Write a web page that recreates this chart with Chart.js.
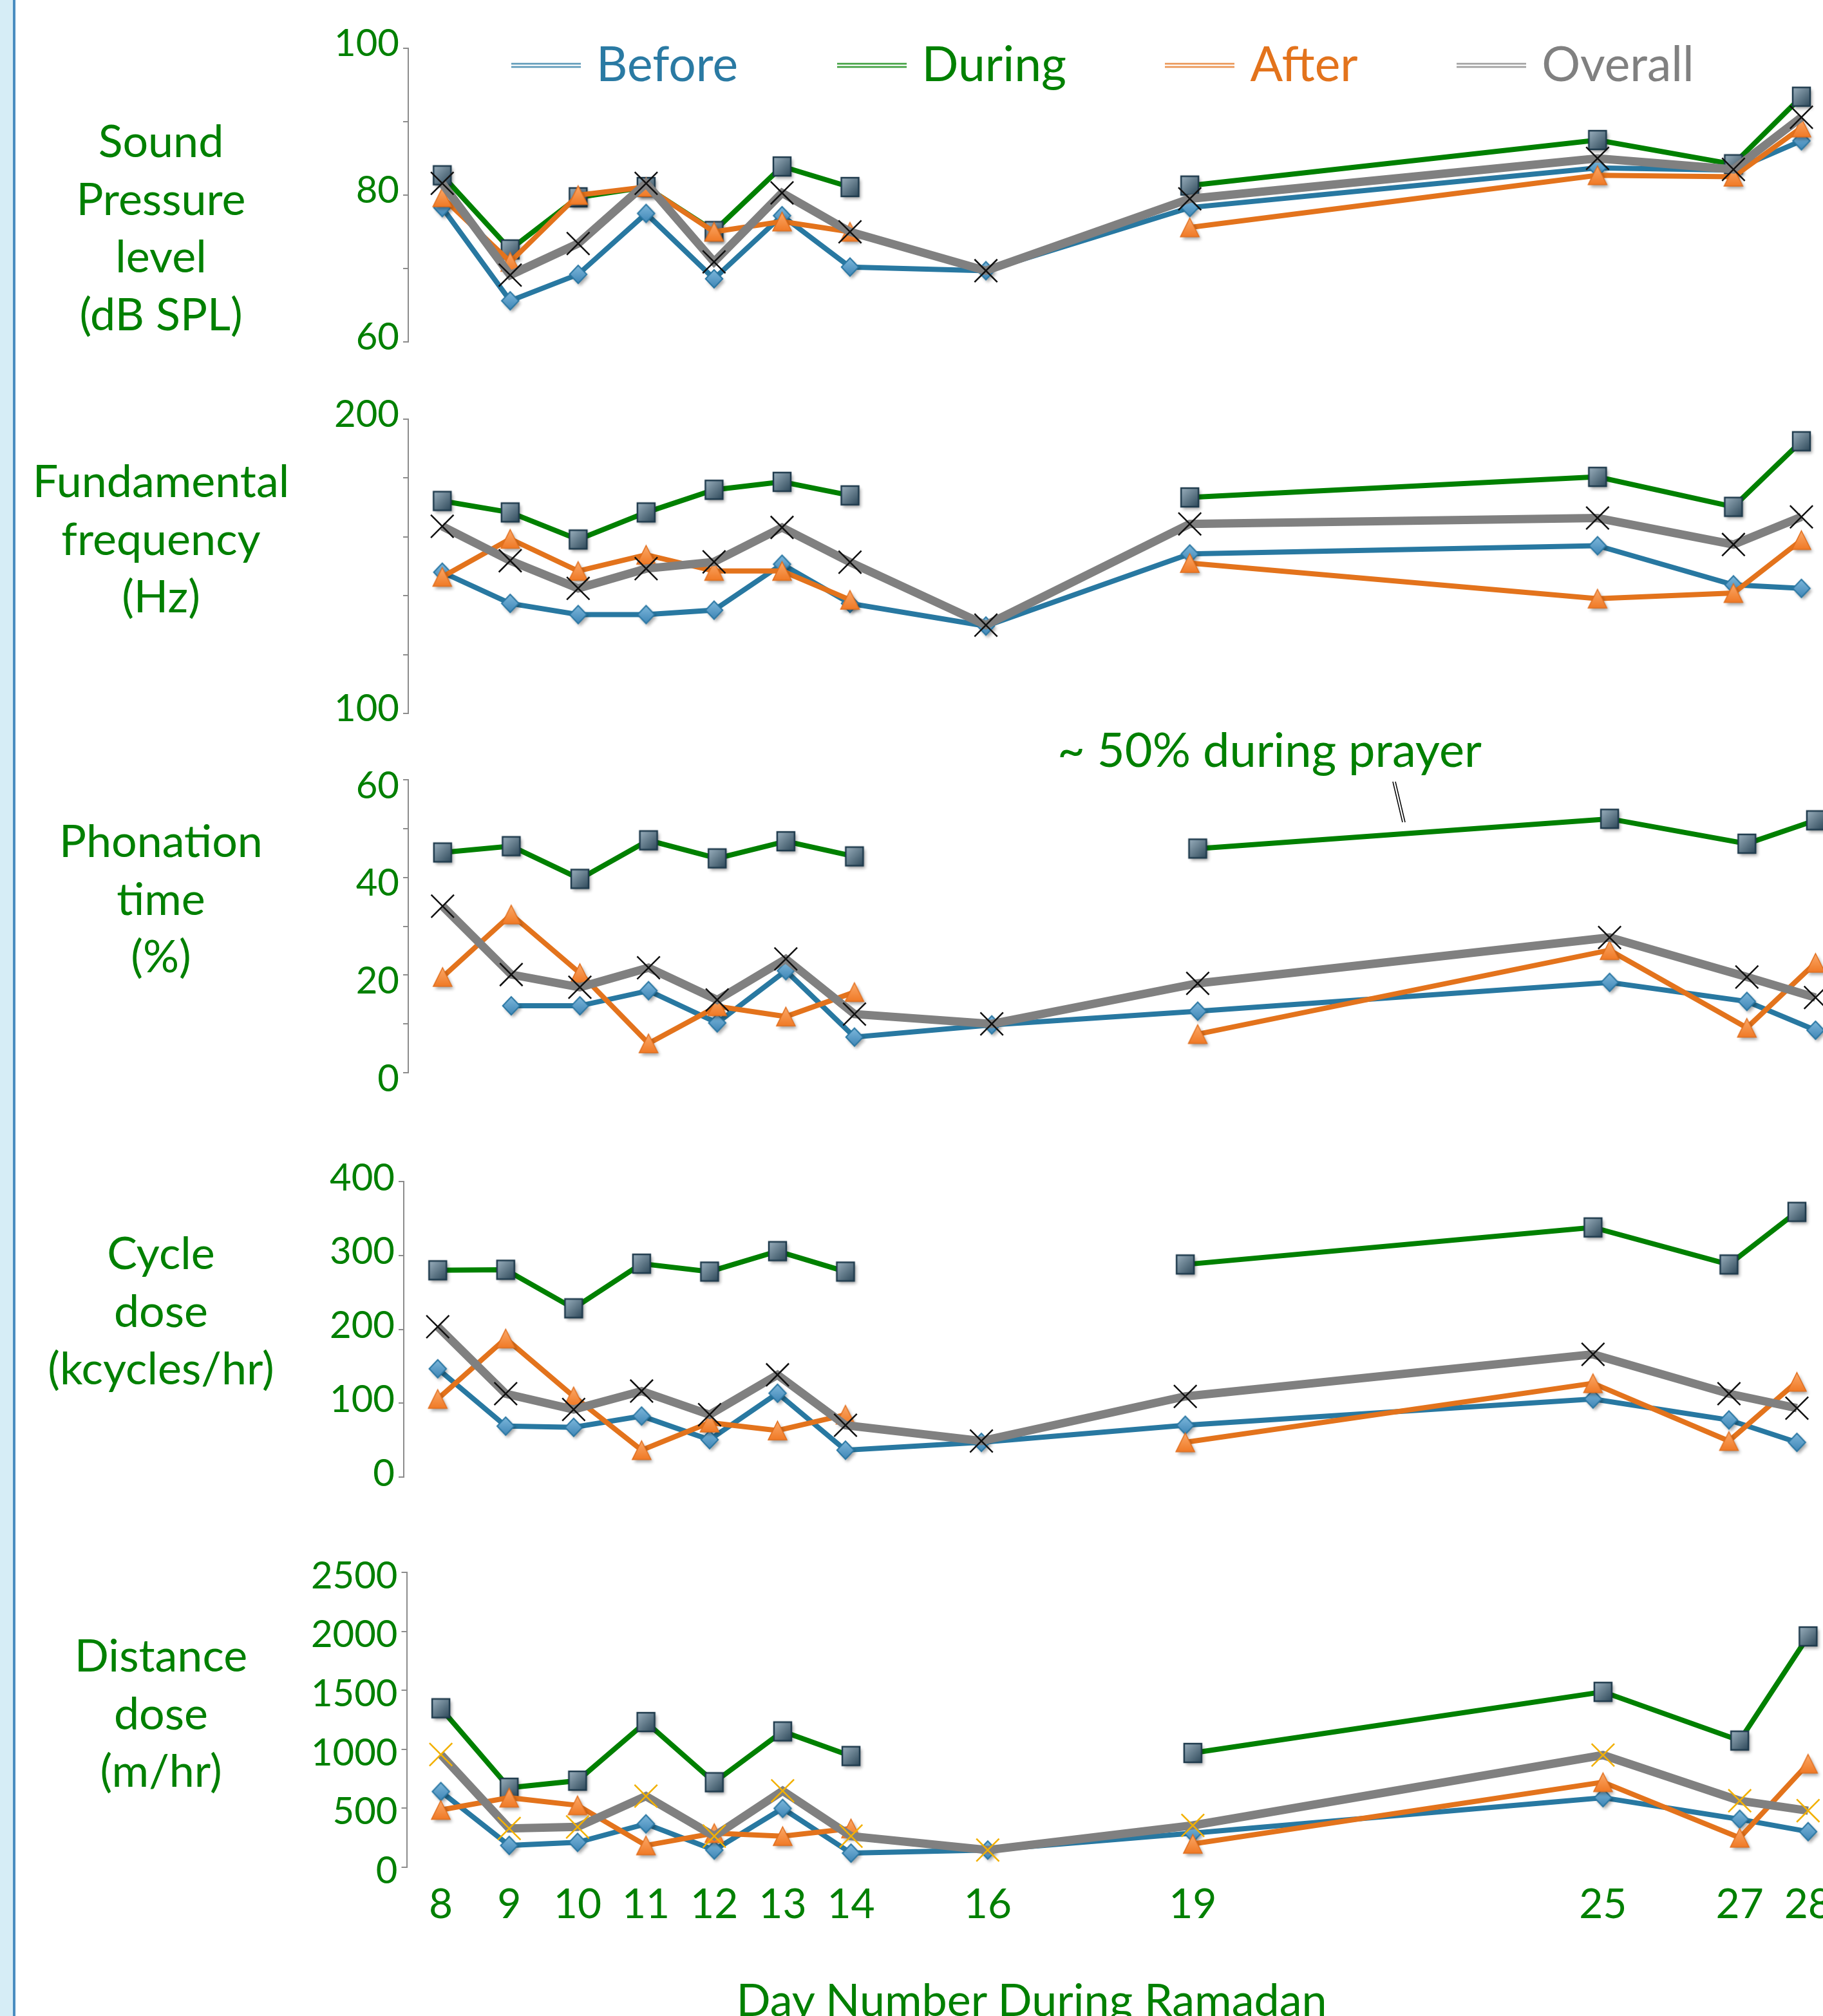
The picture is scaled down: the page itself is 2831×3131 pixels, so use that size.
<!DOCTYPE html>
<html>
<head>
<meta charset="utf-8">
<script src="https://cdn.jsdelivr.net/npm/chart.js@4.4.1/dist/chart.umd.min.js"></script>
<style>
    html, body { margin: 0; padding: 0; width: 2831px; height: 3131px; overflow: hidden; background: #fff; }
    body { position: relative; font-family: Lato, "Open Sans", sans-serif; }
    #strip { position: absolute; left: 0; top: 0; width: 20px; height: 3131px; background: #d6edf6; border-right: 4px solid #4a8dc0; }
    canvas { position: absolute; left: 0; }
    .ylab { position: absolute; left: 250px; transform: translateX(-50%); text-align: center; color: #008000;
            font-size: 70px; line-height: 89.5px; white-space: nowrap; }
    #note { position: absolute; left: 1642px; top: 1126px; color: #008000; font-size: 74px; line-height: 74px; white-space: nowrap; }
    #xtitle { position: absolute; left: 1602px; top: 3069px; transform: translateX(-50%); color: #008000;
              font-size: 70px; line-height: 70px; white-space: nowrap; }
    #leader { position: absolute; left: 0; top: 0; }
</style>
</head>
<body>
<div id="strip"></div>

<div class="ylab" style="top:173px">Sound<br>Pressure<br>level<br>(dB SPL)</div>
<div class="ylab" style="top:701px">Fundamental<br>frequency<br>(Hz)</div>
<div class="ylab" style="top:1260px">Phonation<br>time<br>(%)</div>
<div class="ylab" style="top:1900px">Cycle<br>dose<br>(kcycles/hr)</div>
<div class="ylab" style="top:2525px">Distance<br>dose<br>(m/hr)</div>

<canvas id="spl"></canvas>
<canvas id="f0"></canvas>
<canvas id="phon"></canvas>
<canvas id="cycle"></canvas>
<canvas id="dist"></canvas>
<canvas id="legend"></canvas>

<div id="note">~ 50% during prayer</div>
<div id="xtitle">Day Number During Ramadan</div>
<svg id="leader" width="2831" height="1400">
    <line x1="2163" y1="1214" x2="2178" y2="1277" stroke="#000" stroke-width="1.5"/>
    <line x1="2167" y1="1214" x2="2182" y2="1277" stroke="#000" stroke-width="1.5"/>
</svg>

<script>
const days = [8, 9, 10, 11, 12, 13, 14, 16, 19, 25, 27, 28];
const seriesNames = ['Before', 'During', 'After', 'Overall'];

// Sound pressure level (dB SPL)
const splBefore  = [78.3, 65.6, 69.2, 77.5, 68.6, 77.2, 70.2, 69.7, 78.3, 83.7, 83.4, 87.4];
const splDuring  = [82.7, 72.6, 79.7, 81.1, 75.1, 83.9, 81.1, null, 81.3, 87.5, 84.2, 93.4];
const splAfter   = [79.7, 70.9, 80.0, 81.1, 75.0, 76.4, 75.0, null, 75.6, 82.7, 82.5, 89.2];
const splOverall = [81.6, 69.1, 73.4, 81.6, 70.9, 80.3, 75.0, 69.7, 79.5, 85.0, 83.5, 90.6];
const splLabels  = [60, 80, 100];

// Fundamental frequency (Hz)
const f0Before  = [148.0, 137.4, 133.6, 133.6, 135.1, 150.7, 137.4, 129.7, 154.2, 157.0, 143.7, 142.5];
const f0During  = [172.2, 168.3, 159.1, 168.3, 176.0, 178.7, 174.1, null, 173.4, 180.4, 170.2, 192.5];
const f0After   = [146.4, 159.3, 148.4, 153.9, 148.4, 148.4, 138.6, null, 151.1, 139.0, 140.9, 158.9];
const f0Overall = [163.6, 151.9, 142.5, 149.2, 151.5, 163.2, 151.4, 130.0, 164.4, 166.4, 157.4, 166.8];
const f0Labels  = [100, 150, 200];

// Phonation time (%)
const phonBefore  = [null, 13.7, 13.7, 16.8, 10.2, 20.9, 7.3, 9.8, 12.6, 18.5, 14.6, 8.7];
const phonDuring  = [45.1, 46.4, 39.7, 47.6, 43.9, 47.4, 44.3, null, 45.9, 52.0, 46.9, 51.7];
const phonAfter   = [19.6, 32.4, 20.4, 6.0, 13.6, 11.5, 16.5, null, 7.9, 25.1, 9.2, 22.5];
const phonOverall = [34.1, 20.1, 17.5, 21.5, 14.9, 23.3, 12.0, 10.0, 18.3, 27.7, 19.6, 15.4];
const phonLabels  = [0, 20, 40, 60];

// Cycle dose (kcycles/hr)
const cycleBefore  = [146.6, 69.0, 67.3, 82.6, 50.6, 113.5, 36.4, 47.0, 70.1, 105.7, 77.3, 47.0];
const cycleDuring  = [279.9, 280.6, 228.4, 288.8, 278.1, 305.8, 278.1, null, 287.7, 337.9, 287.7, 358.9];
const cycleAfter   = [105.7, 187.5, 109.2, 36.4, 73.7, 63.0, 84.4, null, 47.0, 127.0, 48.8, 128.9];
const cycleOverall = [203.5, 112.8, 91.5, 116.4, 84.4, 138.4, 70.1, 48.8, 109.2, 166.1, 112.8, 93.3];
const cycleLabels  = [0, 100, 200, 300, 400];

// Distance dose (m/hr)
const distBefore  = [642, 185, 211, 368, 146, 499, 120, 146, 289, 590, 407, 302];
const distDuring  = [1348, 674, 734, 1231, 721, 1152, 943, null, 969, 1487, 1074, 1957];
const distAfter   = [486, 590, 525, 185, 289, 264, 329, null, 198, 721, 250, 878];
const distOverall = [956, 329, 342, 603, 264, 648, 264, 146, 355, 951, 564, 480];
const distLabels  = [0, 500, 1000, 1500, 2000, 2500];

const GREEN_TEXT = '#008000';
const X_MIN = 7.5, X_MAX = 29;

// small canvases used as point styles (gradient fill + drop shadow)
function markerCanvas(size, drawShape, fill, stroke, strokeWidth) {
    const m = 9;
    const c = document.createElement('canvas');
    c.width = c.height = size + 2 * m;
    const ctx = c.getContext('2d');
    ctx.translate(c.width / 2, c.height / 2);
    const h = size / 2;
    ctx.shadowColor = 'rgba(0,0,0,0.35)';
    ctx.shadowBlur = 5;
    ctx.shadowOffsetX = 3;
    ctx.shadowOffsetY = 4;
    ctx.beginPath();
    drawShape(ctx, h);
    ctx.fillStyle = fill(ctx, h);
    ctx.fill();
    ctx.shadowColor = 'transparent';
    ctx.lineWidth = strokeWidth;
    ctx.strokeStyle = stroke;
    ctx.lineJoin = 'miter';
    ctx.stroke();
    return c;
}

const diamondImg = markerCanvas(28, (ctx, h) => {
    ctx.moveTo(0, -h); ctx.lineTo(h * 0.95, 0); ctx.lineTo(0, h); ctx.lineTo(-h * 0.95, 0); ctx.closePath();
}, (ctx, h) => {
    const g = ctx.createLinearGradient(0, -h, 0, h);
    g.addColorStop(0, '#7db7db'); g.addColorStop(1, '#3f86b6');
    return g;
}, '#2a77a3', 2);

const squareImg = markerCanvas(29, (ctx, h) => {
    ctx.rect(-h + 1, -h, 2 * h - 2, 2 * h);
}, (ctx, h) => {
    const g = ctx.createLinearGradient(-h, -h, h, h);
    g.addColorStop(0, '#9cb1bf'); g.addColorStop(1, '#2c4758');
    return g;
}, '#1e3a4c', 2.5);

const triangleImg = markerCanvas(29, (ctx, h) => {
    ctx.moveTo(0, -h); ctx.lineTo(h, h); ctx.lineTo(-h, h); ctx.closePath();
}, (ctx, h) => {
    const g = ctx.createLinearGradient(0, -h, 0, h);
    g.addColorStop(0, '#fba868'); g.addColorStop(1, '#f07a26');
    return g;
}, '#e06d1c', 1.5);

function doubleLine(color) {
    const c = document.createElement('canvas');
    c.width = 108; c.height = 12;
    const ctx = c.getContext('2d');
    ctx.fillStyle = color;
    ctx.fillRect(0, 2.5, 108, 2);
    ctx.fillRect(0, 7.5, 108, 2);
    return c;
}

const seriesStyle = [
    { color: '#2878a1', text: '#2a7aa3', width: 8, marker: diamondImg, order: 4 },
    { color: '#008000', text: '#008000', width: 8, marker: squareImg, order: 3 },
    { color: '#e3731c', text: '#e3731c', width: 8, marker: triangleImg, order: 2 },
    { color: '#808080', text: '#808080', width: 13, marker: 'crossRot', order: 1 }
];

const panels = [
    { id: 'spl', series: [splBefore, splDuring, splAfter, splOverall], min: 60, max: 100, step: 5,
      labels: splLabels, top: 75, bottom: 531, left: 634, perDay: 105.5, labelOffset: -7, cross: '#111' },
    { id: 'f0', series: [f0Before, f0During, f0After, f0Overall], min: 100, max: 200, step: 10,
      labels: f0Labels, top: 651, bottom: 1108, left: 634, perDay: 105.5, labelOffset: -7, cross: '#111' },
    { id: 'phon', series: [phonBefore, phonDuring, phonAfter, phonOverall], min: 0, max: 60, step: 10,
      labels: phonLabels, top: 1211, bottom: 1666, left: 634, perDay: 106.6, labelOffset: 10, cross: '#111' },
    { id: 'cycle', series: [cycleBefore, cycleDuring, cycleAfter, cycleOverall], min: 0, max: 400, step: 50,
      labels: cycleLabels, top: 1835, bottom: 2294, left: 627, perDay: 105.5, labelOffset: -5, cross: '#111' },
    { id: 'dist', series: [distBefore, distDuring, distAfter, distOverall], min: 0, max: 2500, step: 500,
      labels: distLabels, top: 2442, bottom: 2900, left: 631.5, perDay: 106.15, labelOffset: 6, cross: '#f2b000' }
];

function makePanel(p, isBottom) {
    const canvas = document.getElementById(p.id);
    const padTop = 60;
    const padBottom = isBottom ? 0 : 60;
    const axisH = isBottom ? 200 : 0;
    canvas.width = Math.ceil(p.left + (X_MAX - X_MIN) * p.perDay);
    canvas.height = padTop + (p.bottom - p.top) + padBottom + axisH;
    canvas.style.top = (p.top - padTop) + 'px';

    const datasets = p.series.map((vals, i) => {
        const s = seriesStyle[i];
        const isCross = s.marker === 'crossRot';
        return {
            label: seriesNames[i],
            data: days.map((d, k) => ({ x: d, y: vals[k] })),
            borderColor: s.color,
            borderWidth: s.width,
            pointStyle: s.marker,
            pointRadius: isCross ? 25 : 13,
            pointBorderColor: isCross ? p.cross : s.color,
            pointBorderWidth: isCross ? 2.5 : 0,
            pointBackgroundColor: 'transparent',
            order: s.order,
            tension: 0,
            spanGaps: false
        };
    });

    new Chart(canvas, {
        type: 'line',
        data: { datasets: datasets },
        options: {
            responsive: false,
            animation: false,
            events: [],
            layout: { autoPadding: false, padding: { top: padTop, bottom: padBottom, left: 0, right: 0 } },
            plugins: { legend: { display: false }, tooltip: { enabled: false } },
            scales: {
                x: {
                    type: 'linear',
                    min: X_MIN,
                    max: X_MAX,
                    display: isBottom,
                    afterBuildTicks: (s) => { s.ticks = days.map(v => ({ value: v })); },
                    afterFit: (s) => { if (isBottom) s.height = axisH; },
                    grid: { display: false, drawTicks: false },
                    border: { display: false },
                    ticks: {
                        autoSkip: false, maxRotation: 0, padding: 20,
                        color: GREEN_TEXT, font: { family: 'Lato', size: 64 }
                    }
                },
                y: {
                    min: p.min,
                    max: p.max,
                    afterFit: (s) => { s.width = p.left; },
                    grid: { drawOnChartArea: false, drawTicks: true, tickLength: 8, color: '#8c8c8c', lineWidth: 2 },
                    border: { display: true, color: '#8c8c8c', width: 2 },
                    ticks: {
                        stepSize: p.step,
                        padding: 6,
                        labelOffset: p.labelOffset,
                        color: GREEN_TEXT,
                        font: { family: 'Lato', size: 58 },
                        callback: (v) => p.labels.includes(v) ? String(v) : ''
                    }
                }
            }
        }
    });
}

function makeLegend() {
    const canvas = document.getElementById('legend');
    const pad = 167;
    const markW = 81;
    canvas.width = 3000;
    canvas.height = 1000;
    canvas.style.top = '-103px';
    new Chart(canvas, {
        type: 'line',
        data: { datasets: seriesNames.map(name => ({ label: name, data: [] })) },
        options: {
            responsive: false,
            animation: false,
            events: [],
            layout: { autoPadding: false, padding: { left: 794 + (108 - markW) / 2 - pad, top: 0 } },
            scales: { x: { display: false }, y: { display: false } },
            plugins: {
                tooltip: { enabled: false },
                legend: {
                    display: true,
                    position: 'top',
                    align: 'start',
                    labels: {
                        usePointStyle: true,
                        pointStyleWidth: markW,
                        padding: pad,
                        font: { family: 'Lato', size: 75 },
                        generateLabels: () => seriesNames.map((name, i) => ({
                            text: name,
                            fontColor: seriesStyle[i].text,
                            pointStyle: doubleLine(seriesStyle[i].color),
                            fillStyle: 'transparent',
                            strokeStyle: 'transparent',
                            lineWidth: 0,
                            hidden: false,
                            datasetIndex: i
                        }))
                    }
                }
            }
        }
    });
}

panels.forEach((p, i) => makePanel(p, i === panels.length - 1));
makeLegend();
</script>
</body>
</html>
